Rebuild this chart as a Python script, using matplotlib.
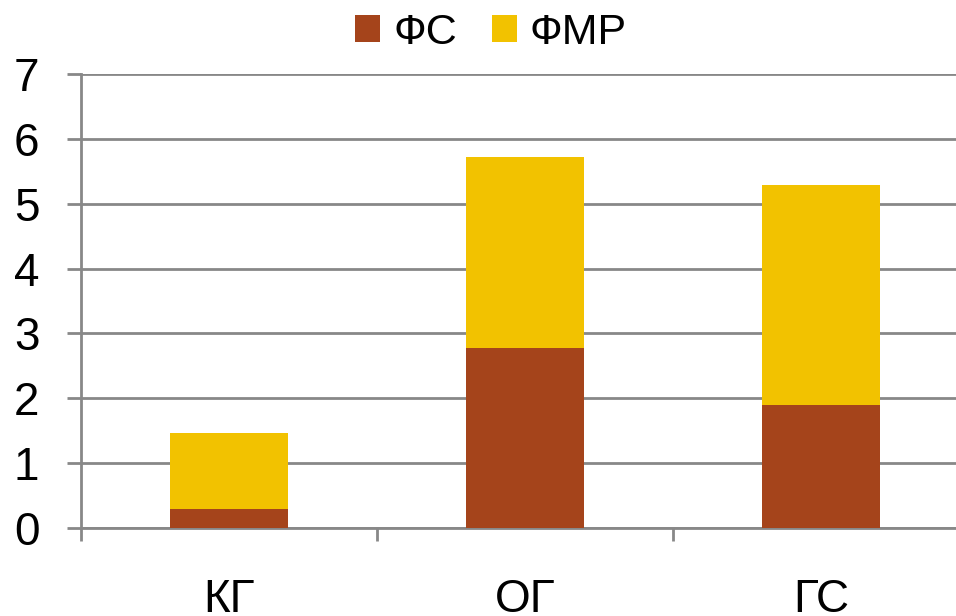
import matplotlib
matplotlib.use('Agg')
from matplotlib import pyplot as plt
import numpy as np

plt.rcParams['font.family'] = ['Liberation Sans', 'DejaVu Sans']

groups = ['КГ', 'ОГ', 'ГС']
fs = [0.29, 2.78, 1.90]
fmr = [1.17, 2.94, 3.39]
series_names = ['ФС', 'ФМР']
colors = ['#A5441B', '#F2C200']

fig = plt.figure(figsize=(9.56, 6.16), dpi=100)
ax = fig.add_axes([81 / 956, 88 / 616, 888 / 956, 454 / 616])

x = np.arange(len(groups))
ax.bar(x, fs, width=0.4, color=colors[0], label=series_names[0], zorder=3)
ax.bar(x, fmr, width=0.4, bottom=fs, color=colors[1], label=series_names[1], zorder=3)

ax.set_xlim(-0.5, 2.5)
ax.set_ylim(0, 7)
ax.set_yticks(range(0, 8))
ax.yaxis.grid(True, color='#888888', linewidth=2, zorder=0)
ax.tick_params(axis='y', length=10, width=2, color='#888888', labelsize=33, pad=20)

ax.set_xticks(x)
ax.set_xticklabels(groups)
ax.set_xticks([-0.5, 0.5, 1.5, 2.5], minor=True)
ax.tick_params(axis='x', which='major', length=0, labelsize=33, pad=36)
ax.tick_params(axis='x', which='minor', length=9, width=2, color='#888888')

for side in ['top', 'right']:
    ax.spines[side].set_visible(False)
for side in ['left', 'bottom']:
    ax.spines[side].set_color('#888888')
    ax.spines[side].set_linewidth(2)

fig.legend(loc='center', bbox_to_anchor=(491 / 956, 1 - 33 / 616), ncol=2,
           frameon=False, fontsize=31, handlelength=0.58, handleheight=0.58,
           handletextpad=0.3, columnspacing=0.8)

fig.savefig('out.png', dpi=100)
